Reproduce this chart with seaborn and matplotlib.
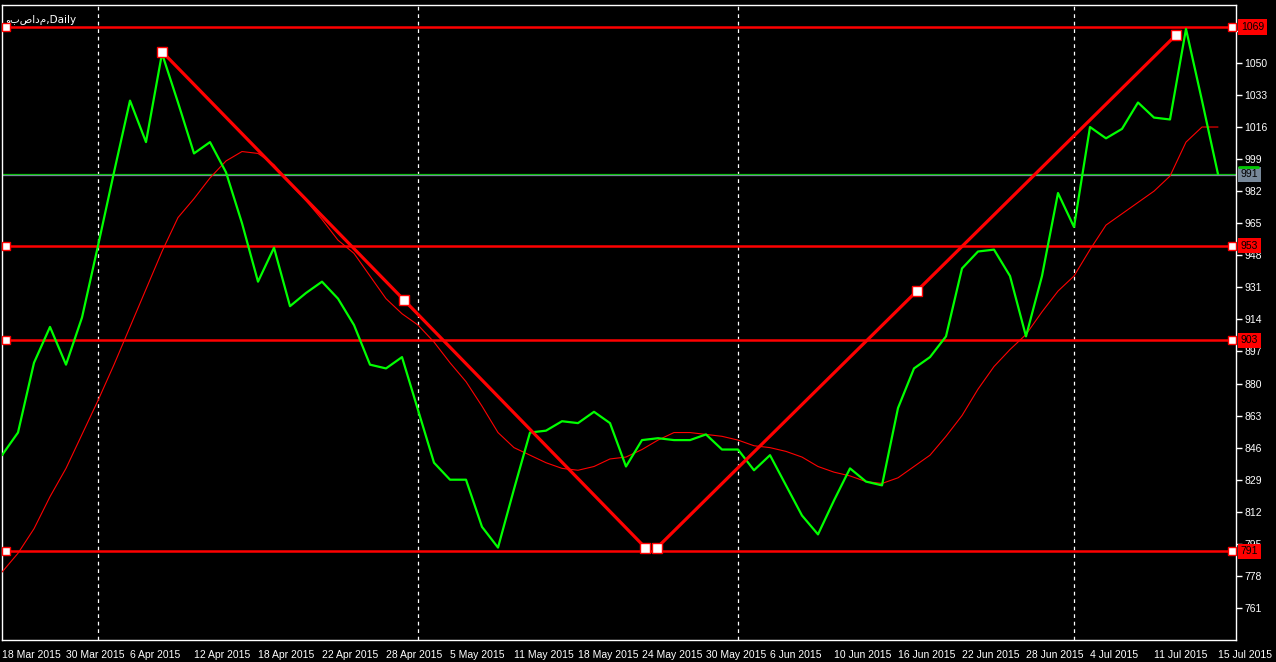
import pandas as pd
import matplotlib
matplotlib.use("Agg")
import matplotlib.pyplot as plt
import seaborn as sns

# Daily close values (one per bar)
close = [842, 854, 891, 910, 890, 915, 953, 992, 1030, 1008,
         1055, 1029, 1002, 1008, 992, 965, 934, 952, 921, 928,
         934, 925, 911, 890, 888, 894, 866, 838, 829, 829,
         804, 793, 824, 854, 855, 860, 859, 865, 859, 836,
         850, 851, 850, 850, 853, 845, 845, 834, 842, 826,
         810, 800, 818, 835, 828, 826, 867, 888, 894, 905,
         941, 950, 951, 937, 905, 937, 981, 963, 1016, 1010,
         1015, 1029, 1021, 1020, 1068, 1030, 991]

# Moving average (thin red line)
ma = [780, 790, 803, 820, 835, 853, 871, 890, 910, 930,
      950, 968, 978, 989, 998, 1003, 1002, 996, 986, 977,
      967, 956, 949, 937, 925, 917, 911, 902, 891, 881,
      868, 854, 846, 842, 838, 835, 834, 836, 840, 841,
      845, 850, 854, 854, 853, 852, 850, 847, 846, 844,
      841, 836, 833, 831, 828, 827, 830, 836, 842, 852,
      863, 877, 889, 898, 906, 918, 929, 937, 951, 964,
      970, 976, 982, 990, 1008, 1016, 1016]

date_labels = ['18 Mar 2015', '30 Mar 2015', '6 Apr 2015', '12 Apr 2015', '18 Apr 2015',
               '22 Apr 2015', '28 Apr 2015', '5 May 2015', '11 May 2015', '18 May 2015',
               '24 May 2015', '30 May 2015', '6 Jun 2015', '10 Jun 2015', '16 Jun 2015',
               '22 Jun 2015', '28 Jun 2015', '4 Jul 2015', '11 Jul 2015', '15 Jul 2015']
label_bars = list(range(0, 77, 4))

price_ticks = [761, 778, 795, 812, 829, 846, 863, 880, 897, 914,
               931, 948, 965, 982, 999, 1016, 1033, 1050, 1067]

levels = [1069, 953, 903, 791]
last_price = 991
separators = [6, 26, 46, 67]

# trend lines: (bar, price) anchors
down_bars = [10, 25.1, 40.2]
down_prices = [1056, 924.5, 793]
up_bars = [40.95, 57.2, 73.4]
up_prices = [793, 929, 1065]

df = pd.DataFrame({'bar': range(len(close)), 'close': close, 'ma': ma})

sns.set_style("dark")
plt.rcParams['font.family'] = ['Liberation Sans', 'DejaVu Sans']

fig = plt.figure(figsize=(12.76, 6.62), dpi=100, facecolor='black')
ax = fig.add_axes([2 / 1276, 22 / 662, 1234 / 1276, 635 / 662])
ax.set_facecolor('black')

# period separators
for b in separators:
    ax.axvline(b, color='white', lw=0.9, ls=(0, (3, 3)), zorder=1)

# horizontal levels
for lvl in levels:
    ax.axhline(lvl, color='#ff0000', lw=1.8, zorder=2)
    ax.plot([0.25, 76.9], [lvl, lvl], ls='none', marker='s', ms=5.5,
            mfc='white', mec='#ff0000', mew=1, zorder=6, clip_on=False)
    ax.text(1.004, lvl, str(lvl), transform=ax.get_yaxis_transform(),
            color='black', fontsize=7.5, va='center', ha='left', clip_on=False,
            bbox=dict(boxstyle='square,pad=0.25', fc='#ff0000', ec='none'), zorder=7)

# last price lines
ax.axhline(last_price, color='#00c800', lw=0.9, zorder=2)
ax.axhline(last_price - 0.6, color='#778899', lw=0.9, zorder=2)

# moving average and close
sns.lineplot(data=df, x='bar', y='ma', color='#ff0000', lw=0.8, ax=ax, zorder=3)
sns.lineplot(data=df, x='bar', y='close', color='#00ff00', lw=1.6, ax=ax, zorder=4)

# trend lines
for bars, prices in [(down_bars, down_prices), (up_bars, up_prices)]:
    ax.plot([bars[0], bars[-1]], [prices[0], prices[-1]], color='#ff0000', lw=2.3, zorder=5)
    ax.plot(bars, prices, ls='none', marker='s', ms=7, mfc='white',
            mec='#ff0000', mew=1, zorder=6)

ax.text(1.004, last_price, str(last_price), transform=ax.get_yaxis_transform(),
        color='black', fontsize=7.5, va='center', ha='left', clip_on=False,
        bbox=dict(boxstyle='square,pad=0.25', fc='#778899', ec='none'), zorder=7)
ax.plot([1.0025, 1.018], [last_price + 3.6, last_price + 3.6], color='#00c800', lw=2,
        transform=ax.get_yaxis_transform(), clip_on=False, zorder=8)

ax.text(3 / 1234, 0.985, 'وبصادم,Daily', transform=ax.transAxes, color='white',
        fontsize=7.5, va='top', ha='left', family=['DejaVu Sans'])

ax.set_xlim(0, 77.125)
ax.set_ylim(744.0, 1080.7)
ax.set_xlabel('')
ax.set_ylabel('')
ax.grid(False)

ax.set_xticks(label_bars)
ax.set_xticklabels(date_labels, ha='left', fontsize=7.5, color='white')
ax.yaxis.tick_right()
ax.set_yticks(price_ticks)
ax.set_yticklabels([str(p) for p in price_ticks], fontsize=7.5, color='white')
ax.tick_params(axis='x', colors='white', length=5, width=1, pad=2, direction='out')
ax.tick_params(axis='y', colors='white', length=4, width=1, pad=2, direction='out')
for lab in ax.get_xticklabels():
    lab.set_horizontalalignment('left')
for s in ax.spines.values():
    s.set_color('white')
    s.set_linewidth(1)

fig.savefig('out.png', dpi=100, facecolor='black')
